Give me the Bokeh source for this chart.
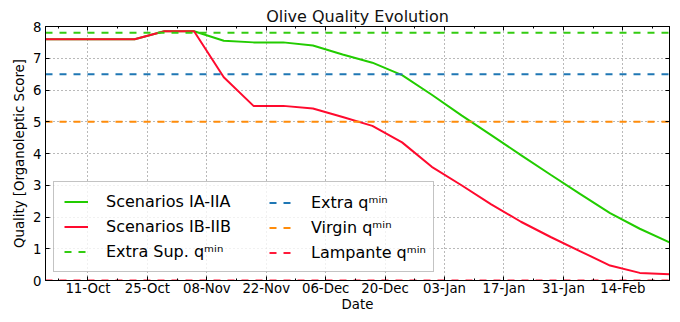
import pandas as pd
from bokeh.plotting import figure
from bokeh.models import (Legend, LegendItem, FixedTicker, DatetimeTickFormatter,
                          LinearAxis, DatetimeAxis, Range1d, CustomJSTickFormatter)
from bokeh.embed import file_html
from bokeh.resources import INLINE

# ---- data (weekly) ----
dates = ["2021-10-01", "2021-10-08", "2021-10-15", "2021-10-22", "2021-10-29",
         "2021-11-05", "2021-11-12", "2021-11-19", "2021-11-26", "2021-12-03",
         "2021-12-10", "2021-12-17", "2021-12-24", "2021-12-31", "2022-01-07",
         "2022-01-14", "2022-01-21", "2022-01-28", "2022-02-04", "2022-02-11",
         "2022-02-18", "2022-02-25"]
scenarios_a = [7.6, 7.6, 7.6, 7.6, 7.85, 7.85, 7.55, 7.5, 7.5, 7.4, 7.12,
               6.86, 6.47, 5.85, 5.2, 4.58, 3.95, 3.33, 2.72, 2.12, 1.63, 1.2]
scenarios_b = [7.6, 7.6, 7.6, 7.6, 7.85, 7.85, 6.4, 5.5, 5.5, 5.42, 5.15,
               4.87, 4.35, 3.58, 3.0, 2.4, 1.85, 1.37, 0.92, 0.47, 0.24, 0.2]
threshold_names = ["Extra Sup.", "Extra", "Virgin", "Lampante"]
threshold_values = [7.8, 6.5, 5.0, 0.0]
tick_dates = ["2021-10-11", "2021-10-25", "2021-11-08", "2021-11-22", "2021-12-06",
              "2021-12-20", "2022-01-03", "2022-01-17", "2022-01-31", "2022-02-14"]
tick_labels = ["11-Oct", "25-Oct", "08-Nov", "22-Nov", "06-Dec",
               "20-Dec", "03-Jan", "17-Jan", "31-Jan", "14-Feb"]
y_ticks = [0, 1, 2, 3, 4, 5, 6, 7, 8]

# ---- styles ----
GREEN = "#22cc00"
RED = "#ff0a2e"
threshold_colors = ["#33cc11", "#1f77b4", "#ff8c0a", "#ff1a3a"]
FONT = "DejaVu Sans"

x = pd.to_datetime(dates)
DAY = 86400000.0
major_ms = [pd.Timestamp(d).value / 1e6 for d in tick_dates]
minor_ms = [m - 7 * DAY for m in major_ms] + [major_ms[-1] + 7 * DAY]
x_ticker = FixedTicker(ticks=major_ms, minor_ticks=minor_ms)
y_ticker = FixedTicker(ticks=y_ticks)

p = figure(width=672, height=314, x_axis_type="datetime", output_backend="svg",
           toolbar_location=None, x_range=Range1d(x[0], x[-1]), y_range=Range1d(0, 8),
           min_border_left=45, min_border_right=3, min_border_top=26, min_border_bottom=0,
           background_fill_color="white", border_fill_color="white")

p.title.text = "Olive Quality Evolution"
p.title.align = "center"
p.title.text_font = FONT
p.title.text_font_size = "16px"
p.title.text_font_style = "normal"
p.title.text_color = "#111111"
p.title.standoff = 2

p.outline_line_color = "black"
p.outline_line_width = 1

fmt = DatetimeTickFormatter(days="%d-%b", months="%d-%b", years="%d-%b", hours="%d-%b")
p.xaxis.ticker = x_ticker
p.xaxis.formatter = fmt
p.yaxis.ticker = y_ticker
p.xaxis.axis_label = "Date"
p.yaxis.axis_label = "Quality [Organoleptic Score]"

for ax in (p.xaxis[0], p.yaxis[0]):
    ax.axis_line_color = "black"
    ax.major_tick_in = 4
    ax.major_tick_out = 0
    ax.minor_tick_in = 2
    ax.minor_tick_out = 0
    ax.major_tick_line_color = "black"
    ax.minor_tick_line_color = "black"
    ax.major_label_text_font = FONT
    ax.major_label_text_font_size = "13.3px"
    ax.major_label_text_color = "black"
    ax.axis_label_text_font = FONT
    ax.axis_label_text_font_size = "13.3px"
    ax.axis_label_text_font_style = "normal"
    ax.axis_label_text_color = "black"
p.xaxis[0].major_label_standoff = 0
p.xaxis[0].axis_label_standoff = -2
p.yaxis[0].major_label_standoff = 4
p.yaxis[0].axis_label_standoff = 3

empty = CustomJSTickFormatter(code="return ''")
top_ax = DatetimeAxis(ticker=x_ticker, formatter=empty, major_tick_in=4, major_tick_out=0,
                      minor_tick_in=2, minor_tick_out=0, major_label_standoff=0,
                      axis_line_color="black")
right_ax = LinearAxis(ticker=y_ticker, formatter=empty, major_tick_in=4, major_tick_out=0,
                      minor_tick_in=0, minor_tick_out=0, major_label_standoff=0,
                      axis_line_color="black")
p.add_layout(top_ax, "above")
p.add_layout(right_ax, "right")

for g in (p.xgrid[0], p.ygrid[0]):
    g.grid_line_color = "#000000"
    g.grid_line_alpha = 0.55
    g.grid_line_width = 1
    g.grid_line_dash = "1 3"
p.xgrid.ticker = x_ticker
p.ygrid.ticker = y_ticker

r_a = p.line(x, scenarios_a, line_color=GREEN, line_width=2)
r_b = p.line(x, scenarios_b, line_color=RED, line_width=2)
thr = []
for val, col in zip(threshold_values, threshold_colors):
    thr.append(p.line([x[0], x[-1]], [val, val], line_color=col, line_width=2,
                      line_dash="7 7"))

SUP = "q\u1d50\u2071\u207f"
common = dict(label_text_font=FONT, label_text_font_size="16px", label_text_color="black",
              glyph_width=24, glyph_height=19, label_standoff=18, padding=10, spacing=6,
              margin=0)
leg1 = Legend(items=[LegendItem(label="Scenarios IA-IIA", renderers=[r_a]),
                     LegendItem(label="Scenarios IB-IIB", renderers=[r_b]),
                     LegendItem(label=threshold_names[0] + " " + SUP, renderers=[thr[0]])],
              location=(8, 8), label_width=317, border_line_color="#888888",
              border_line_width=1, background_fill_color="white",
              background_fill_alpha=0.8, **common)
leg2 = Legend(items=[LegendItem(label=n + " " + SUP, renderers=[r])
                     for n, r in zip(threshold_names[1:], thr[1:])],
              location=(214, 8), border_line_alpha=0, background_fill_alpha=0, **common)
p.add_layout(leg1)
p.add_layout(leg2)

open("out.html", "w").write(file_html(p, INLINE))
